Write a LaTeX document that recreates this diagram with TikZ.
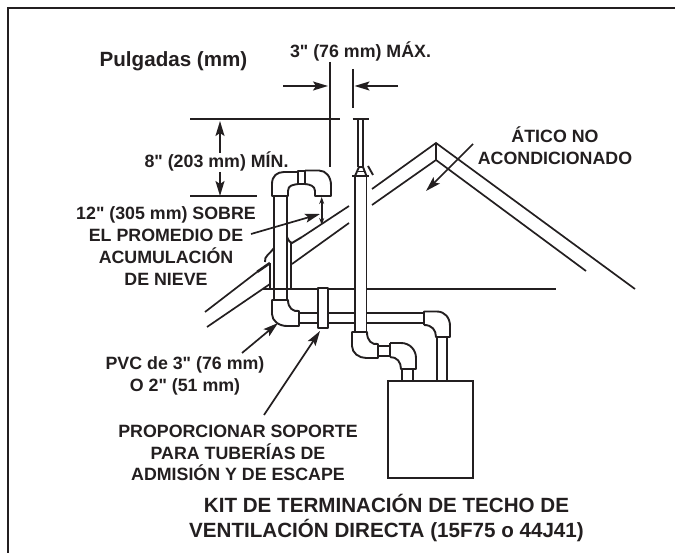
\documentclass[tikz,border=0pt]{standalone}
\usepackage{fontspec}
\newfontfamily\lsb{Liberation Sans}
\usetikzlibrary{arrows.meta}
\definecolor{ink}{HTML}{231F20}
\tikzset{
  lab/.style={font=\lsb\fontsize{17.8}{21.8}\selectfont\bfseries,text=ink,inner sep=0pt,align=center},
  big/.style={font=\lsb\fontsize{20.6}{25}\selectfont\bfseries,text=ink,inner sep=0pt,align=center},
  ln/.style={draw=ink,line width=1.7pt},
  pipe/.style={draw=ink,line width=1.9pt,line join=round},
  dim/.style={draw=ink,line width=1.7pt},
  arr/.style={draw=ink,line width=1.7pt,-{Stealth[length=15pt,width=9pt,inset=3pt]}},
  darr/.style={draw=ink,line width=1.6pt,{Stealth[length=7pt,width=5pt]}-{Stealth[length=7pt,width=5pt]}}
}
\begin{document}
\begin{tikzpicture}[x=1pt,y=-1pt]
\useasboundingbox (0,0) rectangle (675,553);
% frame
\draw[draw=ink,line width=2.6pt] (8,553) -- (8,8) -- (675,8);
% roof
\draw[ln] (205,312) -- (257,272);
\draw[ln] (207,327) -- (270,284);
\draw[ln] (302,237) -- (349,206);
\draw[ln] (292,264) -- (349,223);
\draw[ln] (372,189) -- (436,143) -- (635,289);
\draw[ln] (372,205) -- (436,160) -- (586,271);
\draw[ln] (436,143) -- (436,160);
\draw[pipe] (263,289) -- (556,289);
% flashing left
\draw[pipe] (265,262) .. controls (264,256) and (270,254) .. (274,248);
\draw[pipe,line width=2.6pt] (257,272) -- (270,263);
\draw[pipe] (270,263) -- (270,289);
\draw[pipe] (287,237) .. controls (289,241) and (290,243) .. (292,243) -- (302,237);
\draw[pipe] (291,243) -- (291,289);
% horizontal pipe
\draw[pipe] (299,313) -- (424,313);
\draw[pipe] (299,323) -- (424,323);
% collar
\draw[pipe,fill=white] (318,288) rectangle (328,328);
% vent pipe (centre)
\draw[pipe,fill=white] (355,176) rectangle (366.5,332);
\draw[pipe] (358,119) -- (358,167);
\draw[pipe] (363,119) -- (363,167);
\draw[pipe] (352.5,119) -- (369,119);
\draw[pipe] (352,176) -- (369,176);
\draw[pipe] (355,176) -- (359,167) -- (363,167) -- (366.5,176);
\draw[pipe] (357,171.5) -- (365,171.5);
\draw[pipe] (368,166) -- (373,175);
% left riser
\draw[pipe] (274,196) -- (274,300);
\draw[pipe] (287,196) -- (287,300);
% top-left elbow, coupling, top-right elbow
\draw[pipe] (272,196) -- (272,184) .. controls (272,176) and (277,172) .. (284,172) -- (298,172) -- (298,184)
  .. controls (293,185) and (288,185) .. (288,191) -- (288,196) -- cycle;
\draw[pipe] (298,171) rectangle (305,184);
\draw[pipe] (305,170.5) -- (319,170.5) .. controls (326,170.5) and (331,177) .. (331,185) -- (331,196) -- (315,196) -- (315,191)
  .. controls (315,186) and (310,184.5) .. (305,184);
% bottom-left elbow
\draw[pipe] (272,300) -- (272,314) .. controls (272,321) and (279,326) .. (287,326) -- (299,326) -- (299,311)
  .. controls (293,312) and (288,308) .. (288,300) -- cycle;
% right elbow at end of horizontal pipe
\draw[pipe] (424,325) -- (424,311.5) -- (437,311.5) .. controls (445,311.5) and (450,318) .. (450,326) -- (450,337) -- (436,337)
  .. controls (436,330) and (432,325) .. (424,325);
\draw[pipe] (437,337) -- (437,381);
\draw[pipe] (447,337) -- (447,381);
% lower elbows
\draw[pipe] (352,332) -- (352,346) .. controls (352,353) and (359,358) .. (366,358) -- (378,358) -- (378,344)
  .. controls (372,345) and (367,341) .. (367,332) -- cycle;
\draw[pipe] (378,346) -- (390,346);
\draw[pipe] (378,356) -- (390,356);
\draw[pipe] (390,343) -- (390,357);
\draw[pipe] (390,343) -- (401,343) .. controls (410,343) and (416,350) .. (416,358) -- (416,369) -- (401,369)
  .. controls (401,362) and (397,357) .. (390,357);
\draw[pipe] (402,369) -- (402,381);
\draw[pipe] (413,369) -- (413,381);
% appliance
\node[draw=ink,line width=1.9pt,inner sep=0pt,minimum width=85pt,minimum height=97pt] (box) at (430.5,429.5) {};
% dimension lines
\draw[dim] (190,119) -- (340,119);
\draw[dim] (190,196) -- (257,196);
\draw[dim] (330,62) -- (330,167);
\draw[dim] (353,69) -- (353,108);
% texts
\node[big] (unit) at (173.5,61) {Pulgadas (mm)};
\node[lab] (maxlab) at (360.5,51) {3" (76 mm) MÁX.};
\node[lab] (minlab) at (216.5,161) {8" (203 mm) MÍN.};
\node[lab] (atic) at (555,146) {ÁTICO NO\\ACONDICIONADO};
\node[lab] (snow) at (166,246) {12" (305 mm) SOBRE\\EL PROMEDIO DE\\ACUMULACIÓN\\DE NIEVE};
\node[lab] (pvc) at (185,375.5) {PVC de 3" (76 mm)\\O 2" (51 mm)};
\node[lab] (sup) at (238,453) {PROPORCIONAR SOPORTE\\PARA TUBERÍAS DE\\ADMISIÓN Y DE ESCAPE};
\node[big] (kit) at (386.5,518) {KIT DE TERMINACIÓN DE TECHO DE\\VENTILACIÓN DIRECTA (15F75 o 44J41)};
% arrows
\coordinate (a1s) at (283,86); \coordinate (a1e) at (328,86);
\coordinate (a2s) at (398,86); \coordinate (a2e) at (354.5,86);
\draw[arr] (a1s) -- (a1e);
\draw[arr] (a2s) -- (a2e);
\coordinate (b1s) at (220,153); \coordinate (b1e) at (220,121);
\coordinate (b2s) at (220,172); \coordinate (b2e) at (220,196);
\draw[arr] (b1s) -- (b1e);
\draw[arr] (b2s) -- (b2e);
\coordinate (c1) at (321.7,197); \coordinate (c2) at (321.7,225);
\draw[darr] (c1) -- (c2);
\coordinate (d1) at (251,234); \coordinate (d2) at (320,214);
\draw[arr] (d1) -- (d2);
\coordinate (e1) at (473,144); \coordinate (e2) at (426,191);
\draw[arr] (e1) -- (e2);
\coordinate (f1) at (242,353); \coordinate (f2) at (278,323);
\draw[arr] (f1) -- (f2);
\coordinate (g1) at (264,415); \coordinate (g2) at (320,331);
\draw[arr] (g1) -- (g2);
\end{tikzpicture}
\end{document}
